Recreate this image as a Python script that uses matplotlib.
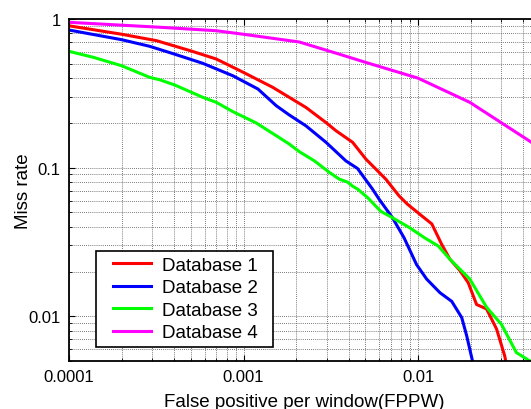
import matplotlib
matplotlib.use("Agg")
import matplotlib.pyplot as plt
from matplotlib.patches import Rectangle
from matplotlib.ticker import LogLocator, FixedLocator, FixedFormatter, NullFormatter

plt.rcParams['font.family'] = ['Liberation Sans', 'DejaVu Sans']

labels = ["Database 1", "Database 2", "Database 3", "Database 4"]
colors = ["#ff0000", "#0000ff", "#00ff00", "#ff00ff"]

x1 = [1e-4, 2e-4, 3.17e-4, 5.0e-4, 6.98e-4, 1e-3, 1.47e-3, 1.83e-3, 2.28e-3, 2.97e-3,
      3.39e-3, 4.22e-3, 5.03e-3, 5.98e-3, 6.54e-3, 7.79e-3, 8.69e-3, 0.0105, 0.012,
      0.01366, 0.01523, 0.01738, 0.0194, 0.02165, 0.0247, 0.0282, 0.0314, 0.0319]
y1 = [0.90, 0.79, 0.715, 0.61, 0.538, 0.437, 0.347, 0.297, 0.254, 0.201,
      0.177, 0.148, 0.114, 0.093, 0.0836, 0.0645, 0.0568, 0.0474, 0.0418,
      0.0305, 0.0242, 0.0203, 0.0168, 0.0120, 0.0112, 0.0082, 0.0054, 0.0049]

x2 = [1e-4, 2e-4, 2.9e-4, 4.03e-4, 5.85e-4, 8.69e-4, 1.21e-3, 1.54e-3, 1.83e-3, 2.28e-3,
      2.97e-3, 3.86e-3, 4.5e-3, 5.48e-3, 5.98e-3, 7.13e-3, 8.32e-3, 9.8e-3, 0.0112,
      0.01336, 0.0156, 0.0178, 0.019, 0.0206]
y2 = [0.843, 0.726, 0.655, 0.58, 0.503, 0.415, 0.338, 0.261, 0.226, 0.191,
      0.148, 0.111, 0.0987, 0.0718, 0.0614, 0.0461, 0.0337, 0.0223, 0.0178,
      0.0144, 0.0126, 0.0098, 0.0074, 0.0049]

x3 = [1e-4, 1.38e-4, 2e-4, 2.9e-4, 3.31e-4, 4.03e-4, 5.85e-4, 6.98e-4, 8.69e-4, 1.18e-3,
      1.54e-3, 1.83e-3, 2.09e-3, 2.55e-3, 3.1e-3, 3.54e-3, 3.94e-3, 4.22e-3, 4.5e-3,
      5.13e-3, 6.12e-3, 6.83e-3, 8.89e-3, 0.011, 0.01306, 0.01523, 0.0198, 0.0247,
      0.0301, 0.0366, 0.0437, 0.05]
y3 = [0.606, 0.552, 0.485, 0.405, 0.39, 0.36, 0.297, 0.275, 0.238, 0.20,
      0.164, 0.144, 0.128, 0.111, 0.093, 0.0836, 0.080, 0.075, 0.0718,
      0.063, 0.0508, 0.0474, 0.0396, 0.0335, 0.0297, 0.0242, 0.0178, 0.0115,
      0.0088, 0.0057, 0.0050, 0.0048]

x4 = [1e-4, 3.31e-4, 6.98e-4, 9.95e-4, 2.09e-3, 3.54e-3, 5.03e-3, 0.01, 0.0198,
      0.0301, 0.0443, 0.05]
y4 = [0.95, 0.88, 0.834, 0.79, 0.70, 0.58, 0.51, 0.40, 0.275,
      0.20, 0.149, 0.132]

xs = [x1, x2, x3, x4]
ys = [y1, y2, y3, y4]

xticks = [1e-4, 1e-3, 1e-2]
xticklabels = ["0.0001", "0.001", "0.01"]
yticks = [0.01, 0.1, 1]
yticklabels = ["0.01", "0.1", "1"]

W, H = 531, 410
fig = plt.figure(figsize=(W / 100, H / 100), dpi=100)
ax = fig.add_axes([69 / W, (H - 362) / H, (540 - 69) / W, (362 - 20) / H])

for x, y, c, lab in zip(xs, ys, colors, labels):
    ax.plot(x, y, color=c, lw=2.2, label=lab)

ax.set_xscale('log')
ax.set_yscale('log')
ax.set_xlim(1e-4, 0.05)
ax.set_ylim(0.005, 1)

ax.xaxis.set_major_locator(FixedLocator(xticks))
ax.xaxis.set_major_formatter(FixedFormatter(xticklabels))
ax.yaxis.set_major_locator(FixedLocator(yticks))
ax.yaxis.set_major_formatter(FixedFormatter(yticklabels))
ax.xaxis.set_minor_locator(LogLocator(base=10, subs=range(2, 10)))
ax.yaxis.set_minor_locator(LogLocator(base=10, subs=range(2, 10)))
ax.xaxis.set_minor_formatter(NullFormatter())
ax.yaxis.set_minor_formatter(NullFormatter())

ax.grid(True, which='both', color='0.3', linestyle=(0, (1, 1.5)), lw=0.6)
ax.set_axisbelow(True)
ax.tick_params(which='both', direction='in', top=True, right=True, labelsize=12, pad=6)
ax.tick_params(which='major', length=4)
ax.tick_params(which='minor', length=2)
for s in ax.spines.values():
    s.set_linewidth(1.3)

ax.set_xlabel("False positive per window(FPPW)", fontsize=13.5, labelpad=6)
ax.set_ylabel("Miss rate", fontsize=13.5)
ax.yaxis.set_label_coords((23 - 69) / 471, 0.5)
ax.yaxis.label.set_verticalalignment('center')

# legend frame (figure pixel coords), drawn inside the axes below the legend
frame = Rectangle((96 / W, (H - 348) / H), (273 - 96) / W, (348 - 252) / H,
                  transform=fig.transFigure, facecolor='white', edgecolor='black',
                  lw=1.2, zorder=4, clip_on=False)
ax.add_artist(frame)
leg = ax.legend(loc='upper left', bbox_to_anchor=(113 / W, (H - 257.5) / H),
                bbox_transform=fig.transFigure, fontsize=13.5, frameon=False,
                borderaxespad=0, borderpad=0, handlelength=2.0, handletextpad=0.62,
                labelspacing=0.29)
leg.set_zorder(5)

fig.savefig("out.png", dpi=100)
